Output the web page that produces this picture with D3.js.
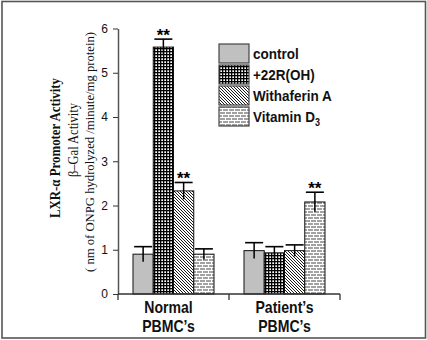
<!DOCTYPE html>
<html><head><meta charset="utf-8">
<script src="https://cdn.jsdelivr.net/npm/d3@7"></script>
<style>body{margin:0;background:#fff}svg{display:block}</style>
</head><body>
<svg id="c" width="427" height="340"></svg>
<script>
const categories = ["Normal|PBMC\u2019s", "Patient\u2019s|PBMC\u2019s"];
const seriesNames = ["control", "+22R(OH)", "Withaferin A", "Vitamin D"];
const control   = [0.90, 0.98];
const r22       = [5.58, 0.93];
const withaferin= [2.33, 0.98];
const vitaminD  = [0.90, 2.08];
const errControl= [0.17, 0.18];
const err22     = [0.18, 0.14];
const errWith   = [0.19, 0.13];
const errVit    = [0.12, 0.22];
const starsFlags = [[false,true,true,false],[false,false,false,true]];
const yTicks = [0,1,2,3,4,5,6];

const values = [control, r22, withaferin, vitaminD];
const errs = [errControl, err22, errWith, errVit];
const svg = d3.select("#c");

// frame
svg.append("rect").attr("x",2).attr("y",1.5).attr("width",423.5).attr("height",336.5)
  .attr("fill","none").attr("stroke","#555").attr("stroke-width",1.6);

// patterns
const defs = svg.append("defs");
const p1 = defs.append("pattern").attr("id","p22").attr("patternUnits","userSpaceOnUse").attr("width",3).attr("height",3);
p1.append("rect").attr("width",3).attr("height",3).attr("fill","#fff");
p1.append("rect").attr("width",3).attr("height",1.3).attr("fill","#000");
p1.append("rect").attr("width",1.3).attr("height",3).attr("fill","#000");
const p2 = defs.append("pattern").attr("id","pWith").attr("patternUnits","userSpaceOnUse").attr("width",3).attr("height",3);
p2.append("rect").attr("width",3).attr("height",3).attr("fill","#fff");
p2.append("path").attr("d","M-1,-1L4,4M-1,2L1,4M2,-1L4,1").attr("stroke","#000").attr("stroke-width",0.9);
const p3 = defs.append("pattern").attr("id","pVit").attr("patternUnits","userSpaceOnUse").attr("width",6).attr("height",6);
p3.append("rect").attr("width",6).attr("height",6).attr("fill","#a2a2a2");
p3.append("rect").attr("y",0).attr("width",6).attr("height",1).attr("fill","#fff");
p3.append("rect").attr("y",3).attr("width",6).attr("height",1).attr("fill","#fff");
p3.append("rect").attr("x",0).attr("y",0).attr("width",1).attr("height",3).attr("fill","#fff");
p3.append("rect").attr("x",3).attr("y",3).attr("width",1).attr("height",3).attr("fill","#fff");
const fills = ["#c0c0c0","url(#p22)","url(#pWith)","url(#pVit)"];

// scales
const y = d3.scaleLinear().domain([0,6]).range([294,28.5]);
const x0 = d3.scaleBand().domain(categories).range([118,340]).padding(0);
const x1 = d3.scaleBand().domain(seriesNames).range([15, 96]).padding(0);

// bars
categories.forEach((cat, ci) => {
  const g = svg.append("g").attr("transform", `translate(${x0(cat)},0)`);
  g.selectAll("rect.bar").data(seriesNames).join("rect")
    .attr("x", s => x1(s)).attr("width", x1.bandwidth())
    .attr("y", (s,si) => y(values[si][ci]))
    .attr("height", (s,si) => y(0) - y(values[si][ci]))
    .attr("fill", (s,si) => fills[si]).attr("stroke","#111").attr("stroke-width",1);
  seriesNames.forEach((s, si) => {
    const cx = x1(s) + x1.bandwidth()/2;
    const v = values[si][ci], e = errs[si][ci];
    g.append("line").attr("x1",cx).attr("x2",cx).attr("y1",y(v+e)).attr("y2",y(v-e))
      .attr("stroke","#000").attr("stroke-width",1.5);
    g.append("line").attr("x1",cx-9).attr("x2",cx+9).attr("y1",y(v+e)).attr("y2",y(v+e))
      .attr("stroke","#000").attr("stroke-width",1.6);
    if (starsFlags[ci][si]) {
      g.append("text").attr("x",cx).attr("y",y(v+e)+1.5).attr("text-anchor","middle")
        .attr("font-family","Liberation Sans, Arial, sans-serif").attr("font-weight","bold")
        .attr("font-size",17).text("**");
    }
  });
});

// y axis
const yAxis = svg.append("g").attr("transform","translate(118,0)")
  .call(d3.axisLeft(y).tickValues(yTicks).tickFormat(d3.format("d")).tickSize(5).tickSizeOuter(0).tickPadding(5));
yAxis.select(".domain").attr("stroke","#555").attr("stroke-width",1.5);
yAxis.selectAll(".tick line").attr("stroke","#333");
yAxis.selectAll(".tick text").attr("font-family","Liberation Sans, Arial, sans-serif")
  .attr("font-size",12).attr("fill","#111");

// x axis baseline with ticks at band boundaries
const bounds = [x0.range()[0]].concat(categories.map(c => x0(c)+x0.bandwidth()));
svg.append("line").attr("x1",x0.range()[0]).attr("x2",x0.range()[1]).attr("y1",y(0)).attr("y2",y(0))
  .attr("stroke","#333").attr("stroke-width",1.3);
svg.selectAll("line.xt").data(bounds).join("line").attr("class","xt")
  .attr("x1",d=>d).attr("x2",d=>d).attr("y1",y(0)).attr("y2",y(0)+6)
  .attr("stroke","#333").attr("stroke-width",1.3);

// category labels
categories.forEach((cat, ci) => {
  const lines = cat.split("|");
  const cx = x0(cat) + x0.bandwidth()/2 - (ci===0?5:0);
  lines.forEach((ln, li) => {
    svg.append("text").attr("transform",`translate(${cx},${313 + li*18.5}) scale(0.88,1)`)
      .attr("text-anchor","middle").attr("font-family","Liberation Sans, Arial, sans-serif")
      .attr("font-weight","bold").attr("font-size",16).attr("fill","#111").text(ln);
  });
});

// y labels
const ylab = [
  {t:"LXR-\u03B1 Promoter Activity", x:60, y:148, fs:15, fw:"bold", len:140},
  {t:"\u03B2\u2013Gal Activity", x:77.5, y:140, fs:14, fw:"normal", len:74},
  {t:"( nm of ONPG hydrolyzed /minute/mg protein)", x:93.5, y:152, fs:12.5, fw:"normal", len:240}
];
ylab.forEach(d => {
  svg.append("text").attr("transform",`translate(${d.x},${d.y}) rotate(-90)`)
    .attr("text-anchor","middle").attr("font-family","Liberation Serif, Times New Roman, serif")
    .attr("font-weight",d.fw).attr("font-size",d.fs).attr("fill","#111")
    .attr("textLength",d.len).attr("lengthAdjust","spacingAndGlyphs").text(d.t);
});

// legend
const leg = svg.append("g");
seriesNames.forEach((s, i) => {
  const ty = 44 + i*21;
  leg.append("rect").attr("x",219).attr("y",ty).attr("width",30).attr("height",19)
    .attr("fill",fills[i]).attr("stroke","#444").attr("stroke-width",1.2);
  const t = leg.append("text").attr("transform",`translate(253,${ty+14.5}) scale(0.9,1)`)
    .attr("font-family","Liberation Sans, Arial, sans-serif").attr("font-weight","bold")
    .attr("font-size",15).attr("fill","#111").text(s);
  if (i === 3) t.append("tspan").attr("font-size",10).attr("dy",4).text("3");
});
</script>
</body></html>
